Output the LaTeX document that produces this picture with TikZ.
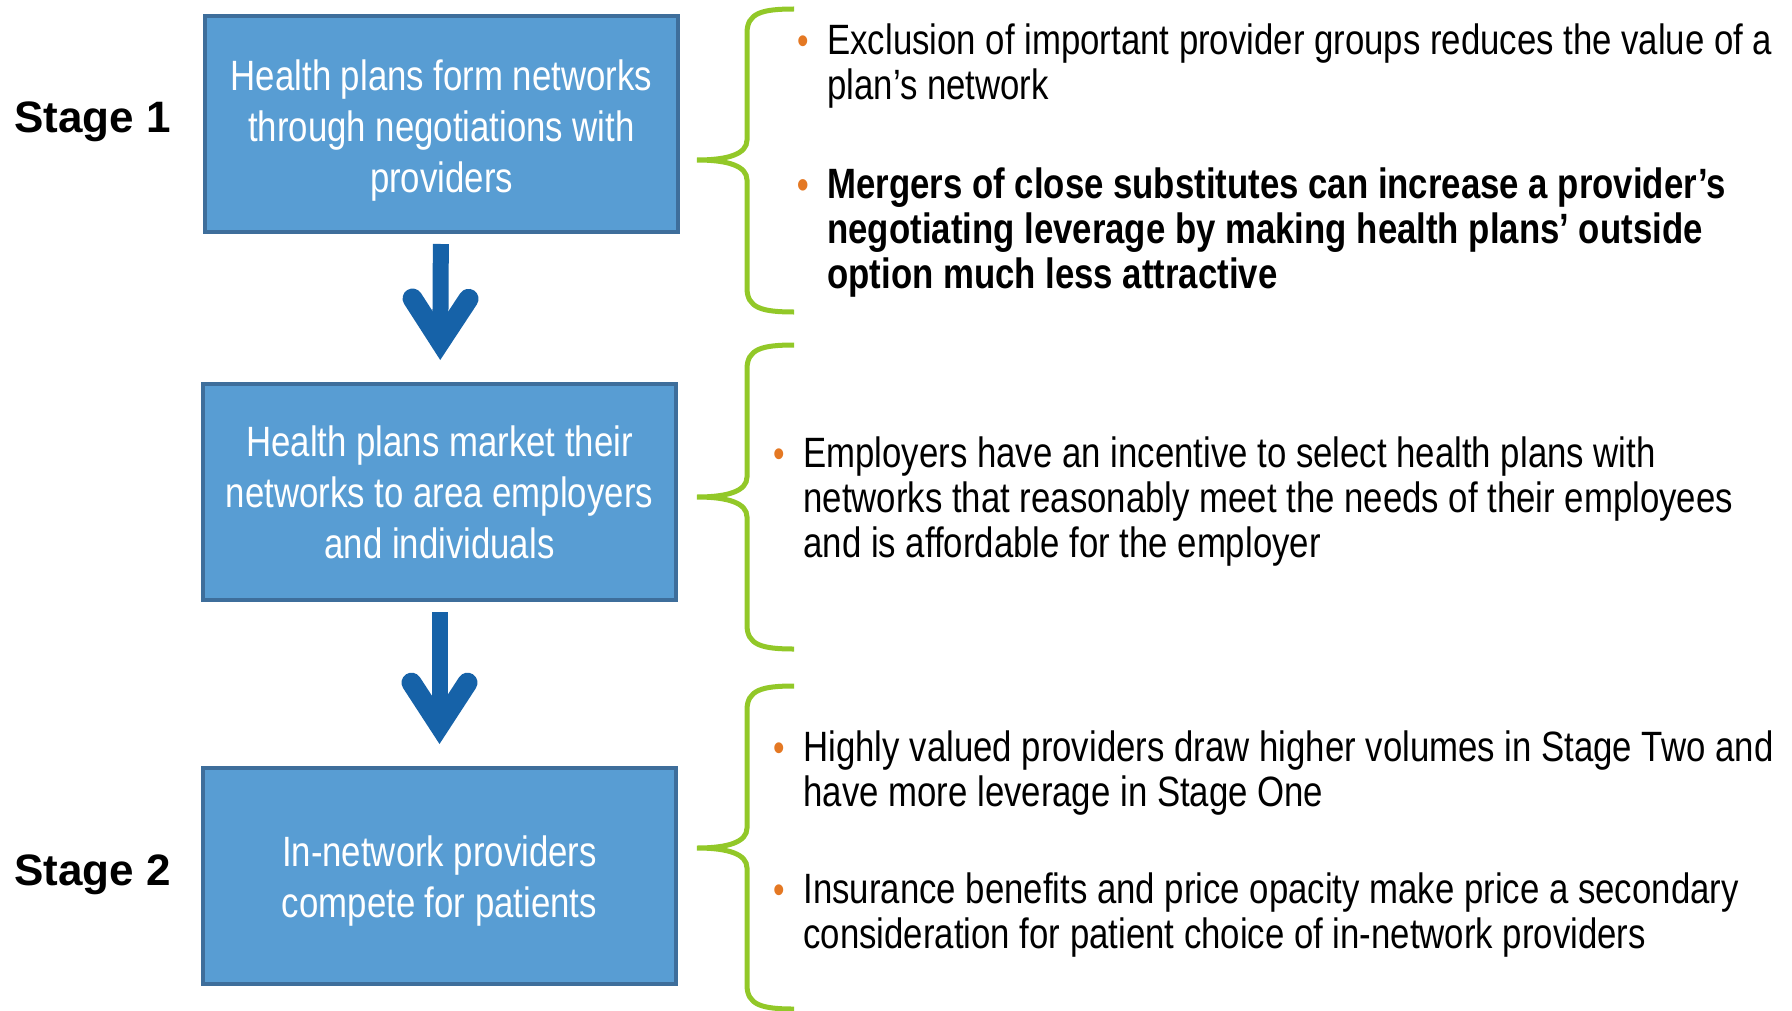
\documentclass[tikz,border=0pt]{standalone}
\usepackage{fontspec}
\setmainfont{Liberation Sans}[FakeStretch=0.82]
\newfontfamily\stagefont{Liberation Sans}
\usetikzlibrary{arrows.meta}

\definecolor{boxblue}{RGB}{88,157,211}
\definecolor{boxedge}{RGB}{62,110,155}
\definecolor{arrowblue}{RGB}{22,98,168}
\definecolor{bracegreen}{RGB}{146,200,40}
\definecolor{bulletorange}{RGB}{228,120,35}

\newcommand{\bul}{\makebox[0pt][r]{{\fontsize{20pt}{20pt}\selectfont\textcolor{bulletorange}{•}}\hspace{9pt}}}
\newcommand{\lift}[1]{\rule{0pt}{#1}}
% top, tip, bottom of a curly brace
\newcommand{\stagebrace}[3]{%
  \draw[bracegreen, line width=2.5pt] (794,#1) .. controls (762,#1) and (747,#1+4) .. (747,#1+24)
    -- (747,#2-20) .. controls (747,#2-6) and (728,#2) .. (697,#2)
    .. controls (728,#2) and (747,#2+6) .. (747,#2+20)
    -- (747,#3-24) .. controls (747,#3-4) and (762,#3) .. (794,#3);}

\begin{document}
\begin{tikzpicture}[x=0.5pt, y=-0.5pt,
    box/.style={draw=boxedge, line width=2pt, fill=boxblue, text=white, align=center,
      minimum width=236.5pt, minimum height=108pt, inner sep=0pt,
      font=\fontsize{21.2pt}{25.5pt}\selectfont},
    stage/.style={anchor=base west, inner sep=0pt,
      font=\stagefont\bfseries\fontsize{22pt}{26pt}\selectfont},
    note/.style={anchor=base west, align=left, inner sep=0pt,
      font=\fontsize{21.2pt}{22.5pt}\selectfont},
    flow/.style={arrowblue, line width=8pt, shorten <=5pt, shorten >=11pt,
      -{Straight Barb[length=21.5pt, width=28pt, line width=10pt, line cap=round, line join=miter]}}]
  \useasboundingbox (0,0) rectangle (1792,1011);

  % stages
  \node[box] (b1) at (441.5,124) {\lift{21.5pt}Health plans form networks\\through negotiations with\\providers};
  \node[box] (b2) at (439.5,492) {Health plans market their\\networks to area employers\\and individuals};
  \node[box] (b3) at (439.5,876) {\lift{20pt}In-network providers\\compete for patients};
  \draw[flow] (b1) -- (b2);
  \draw[flow] (b2) -- (b3);

  \node[stage] (s1) at (14,133) {Stage 1};
  \node[stage] (s2) at (14,885) {Stage 2};

  % braces
  \stagebrace{9}{160}{312}
  \stagebrace{345}{497}{649}
  \stagebrace{686}{848}{1009}

  % notes (placed at the baseline of their last line)
  \node[note] (n1a) at (827,100) {\bul Exclusion of important provider groups reduces the value of a\\plan’s network};
  \node[note, font=\bfseries\fontsize{21.2pt}{22.5pt}\selectfont] (n1b) at (827,288)
    {\bul Mergers of close substitutes can increase a provider’s\\negotiating leverage by making health plans’ outside\\option much less attractive};
  \node[note] (n2) at (803,557) {\bul Employers have an incentive to select health plans with\\networks that reasonably meet the needs of their employees\\and is affordable for the employer};
  \node[note] (n3a) at (803,806) {\bul Highly valued providers draw higher volumes in Stage Two and\\have more leverage in Stage One};
  \node[note] (n3b) at (803,948) {\bul Insurance benefits and price opacity make price a secondary\\consideration for patient choice of in-network providers};
\end{tikzpicture}
\end{document}
